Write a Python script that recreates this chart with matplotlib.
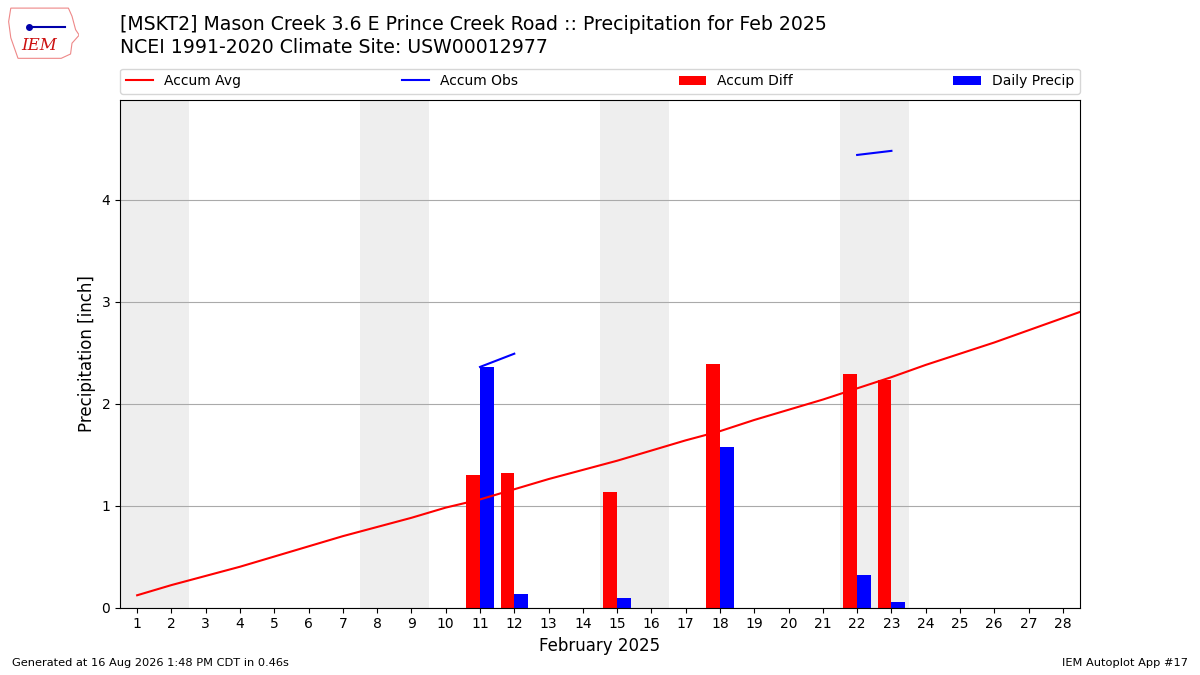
import numpy as np
import matplotlib.pyplot as plt
from matplotlib.patches import Polygon

# day of month
days = np.arange(1, 29)
avg_days = np.arange(1, 30)
# climatological accumulated precip (inch), extends past the last day
accum_avg = [0.12, 0.22, 0.31, 0.40, 0.50, 0.60, 0.70, 0.79, 0.88, 0.98,
             1.06, 1.16, 1.26, 1.35, 1.44, 1.54, 1.64, 1.73, 1.84, 1.94,
             2.04, 2.15, 2.26, 2.38, 2.49, 2.60, 2.72, 2.84, 2.96]
# observed daily precip, nan = no report
daily = [np.nan] * 28
daily[10] = 2.36
daily[11] = 0.13
daily[14] = 0.09
daily[17] = 1.57
daily[21] = 0.32
daily[22] = 0.05
daily = np.array(daily)
# accumulated obs only on report days
accum_obs = np.array([np.nan] * 28)
accum_obs[10] = 2.36
accum_obs[11] = 2.49
accum_obs[14] = 2.58
accum_obs[17] = 4.15
accum_obs[21] = 4.44
accum_obs[22] = 4.48
accum_diff = np.array([np.nan] * 28)
accum_diff[10] = 1.30
accum_diff[11] = 1.32
accum_diff[14] = 1.13
accum_diff[17] = 2.39
accum_diff[21] = 2.29
accum_diff[22] = 2.23
weekends = [1, 8, 15, 22]

fig = plt.figure(figsize=(12, 6.75), dpi=100)
ax = fig.add_axes([0.1, 0.1, 0.8, 0.752])

for d in weekends:
    ax.axvspan(d - 0.5, d + 1.5, color='#EEEEEE', zorder=0, lw=0)

ax.plot(avg_days, accum_avg, color='r', label='Accum Avg', zorder=3)
ax.plot(days, accum_obs, color='b', label='Accum Obs', zorder=3)
ax.bar(days, accum_diff, width=-0.4, align='edge', color='r', label='Accum Diff', zorder=2)
ax.bar(days, daily, width=0.4, align='edge', color='b', label='Daily Precip', zorder=2)

ax.set_xlim(0.5, 28.5)
ax.set_ylim(0, 4.98)
ax.set_xticks(days)
ax.set_yticks([0, 1, 2, 3, 4])
ax.tick_params(labelsize=10)
ax.grid(axis='y', color='#aaaaaa', zorder=1)
ax.set_axisbelow(True)
ax.set_xlabel('February 2025', fontsize=12)
ax.set_ylabel('Precipitation [inch]', fontsize=12)

ax.legend(loc='lower left', bbox_to_anchor=(0, 1.012, 1, 0.05), ncol=4,
          mode='expand', fontsize=10, borderaxespad=0)

fig.text(0.1, 0.963, '[MSKT2] Mason Creek 3.6 E Prince Creek Road :: Precipitation for Feb 2025',
         fontsize=13.6, va='center')
fig.text(0.1, 0.929, 'NCEI 1991-2020 Climate Site: USW00012977', fontsize=13.6, va='center')

# rough IEM logo
logo = fig.add_axes([0.006, 0.912, 0.06, 0.08])
logo.axis('off')
logo.set_xlim(0, 1)
logo.set_ylim(0, 1)
iowa = [(0.05, 0.95), (0.85, 0.95), (0.9, 0.8), (0.95, 0.55), (1.0, 0.45),
        (0.9, 0.3), (0.88, 0.1), (0.75, 0.02), (0.15, 0.02), (0.05, 0.4), (0.02, 0.7)]
logo.add_patch(Polygon(iowa, closed=True, fill=False, ec='#e88', lw=0.8))
logo.plot([0.3, 0.8], [0.6, 0.6], color='#0000aa', lw=1.5)
logo.plot([0.3], [0.6], 'o', color='#0000aa', ms=4)
logo.text(0.2, 0.18, 'IEM', color='#cc1111', fontsize=12, family='serif', style='italic')

fig.text(0.01, 0.013, 'Generated at 16 Aug 2026 1:48 PM CDT in 0.46s', fontsize=8.2)
fig.text(0.99, 0.013, 'IEM Autoplot App #17', fontsize=8.2, ha='right')

fig.savefig('out.png')
